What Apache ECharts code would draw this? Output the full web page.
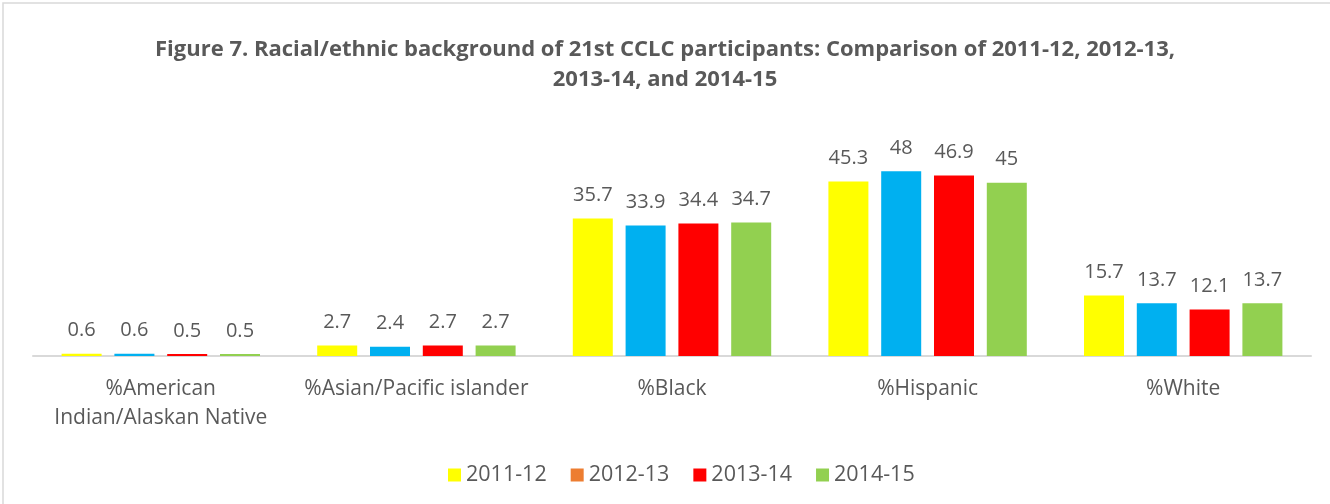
<!DOCTYPE html>
<html>
<head>
<meta charset="utf-8">
<script src="https://cdn.jsdelivr.net/npm/echarts@6/dist/echarts.min.js"></script>
<style>
  html, body { margin: 0; padding: 0; background: #fff; }
  #main { width: 1330px; height: 504px; }
</style>
</head>
<body>
<div id="main"></div>
<script>
// categories and values
const categories = ['%American\nIndian/Alaskan Native', '%Asian/Pacific islander', '%Black', '%Hispanic', '%White'];
const years = ['2011-12', '2012-13', '2013-14', '2014-15'];
const v2011 = [0.6, 2.7, 35.7, 45.3, 15.7];
const v2012 = [0.6, 2.4, 33.9, 48, 13.7];
const v2013 = [0.5, 2.7, 34.4, 46.9, 12.1];
const v2014 = [0.5, 2.7, 34.7, 45, 13.7];

const barColors = ['#FFFF00', '#00B0F0', '#FF0000', '#92D050'];
// the legend swatch for 2012-13 is orange in the original
const legendColors = ['#FFFF00', '#ED7D31', '#FF0000', '#92D050'];

const chart = echarts.init(document.getElementById('main'));
const font = '"Open Sans", "Liberation Sans", sans-serif';

function bar(name, data, color) {
    return {
        name: name,
        type: 'bar',
        barWidth: 40,
        barGap: '32%',
        data: data,
        itemStyle: { color: color },
        label: {
            show: true,
            position: 'top',
            distance: 13,
            color: '#595959',
            fontSize: 20,
            fontFamily: font
        }
    };
}

const option = {
    animation: false,
    title: {
        text: 'Figure 7. Racial/ethnic background of 21st CCLC participants: Comparison of 2011-12, 2012-13,\n2013-14, and 2014-15',
        left: 'center',
        top: 30,
        textStyle: {
            fontFamily: font,
            fontWeight: 'bold',
            fontSize: 22,
            color: '#595959',
            lineHeight: 30
        }
    },
    legend: {
        left: 443,
        top: 459,
        itemWidth: 13,
        itemHeight: 13,
        itemGap: 24,
        textStyle: { fontFamily: font, fontSize: 21.5, color: '#595959' },
        data: years.map((y, i) => ({ name: y, icon: 'rect', itemStyle: { color: legendColors[i] } }))
    },
    grid: {
        left: 33,
        right: 19,
        top: 125,
        bottom: 148,
        containLabel: false
    },
    xAxis: {
        type: 'category',
        data: categories,
        axisLine: { lineStyle: { color: '#d9d9d9', width: 2 } },
        axisTick: { show: false },
        axisLabel: {
            color: '#595959',
            fontSize: 21,
            fontFamily: font,
            lineHeight: 29,
            margin: 19,
            interval: 0
        }
    },
    yAxis: {
        type: 'value',
        min: 0,
        max: 60,
        show: false,
        splitLine: { show: false }
    },
    graphic: [{
        type: 'rect',
        z: -10,
        silent: true,
        shape: { x: 3, y: 3, width: 1400, height: 600 },
        style: { fill: 'none', stroke: '#d9d9d9', lineWidth: 1.5 }
    }],
    series: [
        bar(years[0], v2011, barColors[0]),
        bar(years[1], v2012, barColors[1]),
        bar(years[2], v2013, barColors[2]),
        bar(years[3], v2014, barColors[3])
    ]
};

chart.setOption(option);
</script>
</body>
</html>
